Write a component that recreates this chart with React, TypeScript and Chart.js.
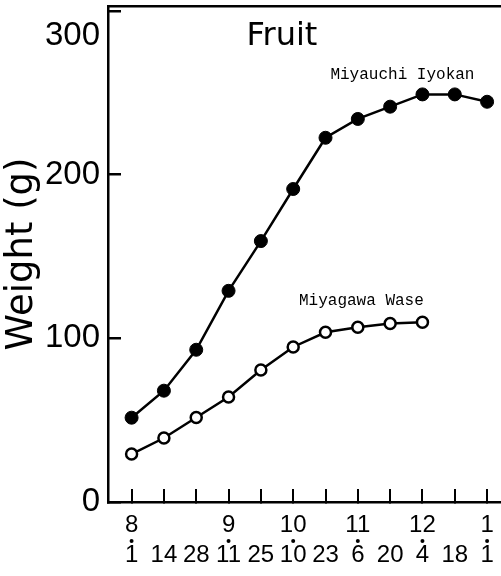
import React, { useEffect, useRef } from 'react';
import { Chart, registerables } from 'chart.js';

Chart.register(...registerables);

// ---- data ----
const dayLabels = ['1', '14', '28', '11', '25', '10', '23', '6', '20', '4', '18', '1'];
const monthLabels = ['8', '', '', '9', '', '10', '', '11', '', '12', '', '1'];
const monthStartIdx = [0, 3, 5, 7, 9, 11];
const iyokanWeights = [51.5, 68, 93, 129, 159.4, 191.2, 222.5, 234, 241.5, 249, 249, 244.5];
const waseWeights = [29.3, 39.1, 51.6, 64.1, 80.6, 94.7, 103.7, 106.7, 109, 109.8];
const yTickValues = [0, 50, 100, 150, 200, 250, 300];
const yTickLabels = ['0', '', '100', '', '200', '', '300'];
const panelTitle = 'Fruit';
const yAxisTitle = 'Weight (g)';
const seriesNames = ['Miyauchi Iyokan', 'Miyagawa Wase'];
const seriesLabelX = [8.38, 7.11];
const seriesLabelY = [261, 123];
const panelTitleX = 4.65;
const panelTitleY = 284.5;

const annotPlugin = {
  id: 'annot',
  afterDraw(chart: any) {
    const { ctx, scales } = chart;
    const xs = scales.x;
    const ys = scales.y;
    ctx.save();
    ctx.fillStyle = '#000';
    ctx.textAlign = 'center';
    ctx.textBaseline = 'middle';
    ctx.font = '32px "DejaVu Sans", sans-serif';
    ctx.fillText(panelTitle, xs.getPixelForValue(panelTitleX), ys.getPixelForValue(panelTitleY));
    ctx.font = '16px "Liberation Mono", monospace';
    seriesNames.forEach((n, i) => {
      ctx.fillText(n, xs.getPixelForValue(seriesLabelX[i]), ys.getPixelForValue(seriesLabelY[i]));
    });
    monthStartIdx.forEach((i) => {
      const px = xs.getPixelForValue(i);
      ctx.beginPath();
      ctx.arc(px, xs.top + 39, 2, 0, Math.PI * 2);
      ctx.fill();
    });
    ctx.restore();
  },
};

const zeroPad = (s: any) => {
  s.paddingTop = 0;
  s.paddingBottom = 0;
  s.paddingLeft = 0;
  s.paddingRight = 0;
};

export default function App() {
  const ref = useRef<HTMLCanvasElement>(null);
  useEffect(() => {
    document.body.style.margin = '0';
    const canvas = ref.current!;
    const chart = new Chart(canvas, {
      type: 'line',
      data: {
        datasets: [
          {
            label: seriesNames[0],
            data: iyokanWeights.map((v, i) => ({ x: i, y: v })),
            borderColor: '#000',
            backgroundColor: '#000',
            borderWidth: 2.5,
            pointRadius: 6.5,
            pointBackgroundColor: '#000',
            pointBorderColor: '#000',
            pointBorderWidth: 1,
            tension: 0,
            clip: false as any,
          },
          {
            label: seriesNames[1],
            data: waseWeights.map((v, i) => ({ x: i, y: v })),
            borderColor: '#000',
            backgroundColor: '#fff',
            borderWidth: 2.5,
            pointRadius: 5.5,
            pointBackgroundColor: '#fff',
            pointBorderColor: '#000',
            pointBorderWidth: 2.5,
            tension: 0,
            clip: false as any,
          },
        ],
      },
      options: {
        animation: false,
        responsive: false,
        devicePixelRatio: 1,
        layout: { padding: 0, autoPadding: false },
        plugins: {
          legend: { display: false },
          tooltip: { enabled: false },
          title: { display: false },
        },
        scales: {
          x: {
            type: 'linear',
            position: 'bottom',
            min: -0.73,
            max: 11.43,
            afterBuildTicks: (s: any) => {
              s.ticks = dayLabels.map((_, i) => ({ value: i }));
            },
            afterFit: (s: any) => {
              s.height = 74;
              zeroPad(s);
            },
            border: { display: true, color: '#000', width: 2.5 },
            grid: {
              drawOnChartArea: false,
              drawTicks: true,
              tickLength: -13,
              color: '#000',
              lineWidth: 2,
            },
            ticks: {
              autoSkip: false,
              maxRotation: 0,
              padding: 21,
              color: '#000',
              font: { family: '"Liberation Sans", sans-serif', size: 24, lineHeight: 1.27 },
              callback: (v: any) => {
                const i = Math.round(Number(v));
                return [monthLabels[i] ?? '', dayLabels[i] ?? ''];
              },
            },
          },
          x2: {
            type: 'linear',
            position: 'top',
            min: 0,
            max: 1,
            afterFit: (s: any) => {
              s.height = 6;
              zeroPad(s);
            },
            border: { display: true, color: '#000', width: 2.5 },
            grid: { display: false, drawTicks: false },
            ticks: { display: false },
          },
          y: {
            type: 'linear',
            position: 'left',
            min: 0,
            max: 303,
            afterBuildTicks: (s: any) => {
              s.ticks = yTickValues.map((v) => ({ value: v }));
            },
            afterFit: (s: any) => {
              s.width = 108;
              zeroPad(s);
            },
            border: { display: true, color: '#000', width: 2.5 },
            grid: {
              drawOnChartArea: false,
              drawTicks: true,
              tickLength: -13,
              color: '#000',
              lineWidth: 2.5,
            },
            title: {
              display: true,
              text: yAxisTitle,
              color: '#000',
              font: { family: '"DejaVu Sans", sans-serif', size: 37 },
              padding: { top: 0, bottom: 0 },
            },
            ticks: {
              padding: 21,
              color: '#000',
              font: { family: '"Liberation Sans", sans-serif', size: 33, lineHeight: 1.5 },
              callback: (v: any) => {
                const idx = yTickValues.indexOf(Number(v));
                const t = idx >= 0 ? yTickLabels[idx] : '';
                return t === '300' ? ['', t] : t;
              },
            },
          },
        },
      },
      plugins: [annotPlugin],
    });
    return () => chart.destroy();
  }, []);
  return (
    <div style={{ width: 501, height: 576 }}>
      <canvas ref={ref} width={501} height={576} style={{ display: 'block' }} />
    </div>
  );
}
